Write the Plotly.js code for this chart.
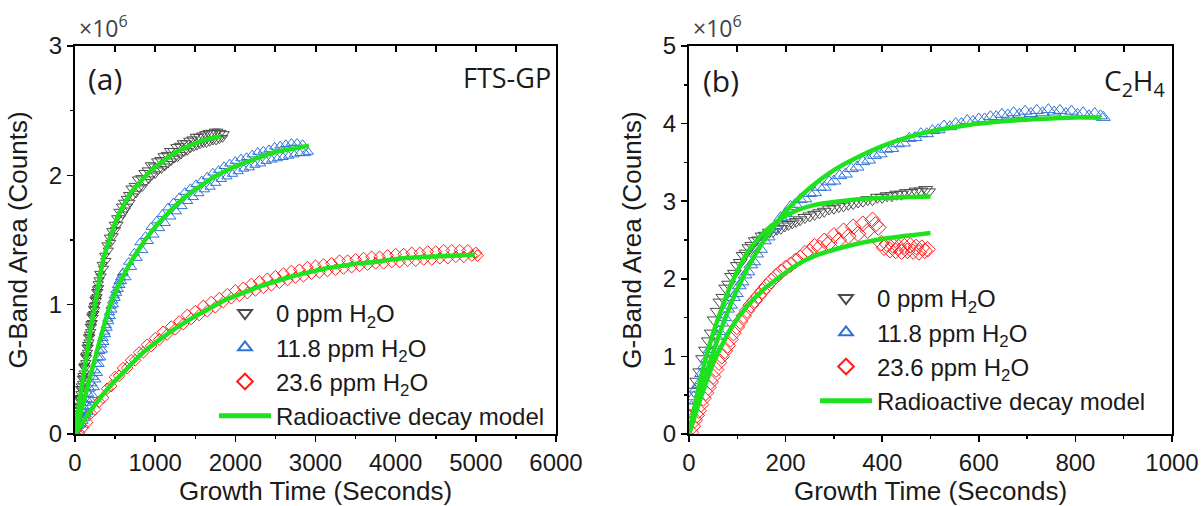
<!DOCTYPE html>
<html>
<head>
<meta charset="utf-8">
<script src="https://cdn.plot.ly/plotly-3.0.1.min.js"></script>
<style>html,body{margin:0;padding:0;background:#fff;}#chart{width:1203px;height:506px;}</style>
</head>
<body>
<div id="chart"></div>
<script>
// ---------- Panel (a): FTS-GP (y in units of 10^6 counts) ----------
const a_t_0ppm = [0,5,10,15,20,25,30,35,40,45,50,55,60,65,70,75,80,85,90,95,100,105,110,115,120,125,130,135,140,145,150,155,160,165,170,175,180,185,190,195,200,205,210,215,220,225,230,235,240,245,250,255,260,265,270,275,280,285,290,295,300,
310,325,340,355,370,385,400,415,430,445,460,475,490,505,520,535,550,565,580,595,610,625,640,655,670,685,
700,720,740,760,780,800,820,840,860,880,900,920,940,960,980,1000,1020,1040,1060,1080,1100,1120,1140,1160,1180,1200,1220,1240,1260,1280,1300,1320,1340,1360,1380,1400,1420,1440,1460,1480,1500,1520,1540,1560,1580,1600,1620,1640,1660,1680,1700,1720,1740,1760,1780,1800,1820,1840,1860];
const a_y_0ppm = [0.03,0.01,0.10,0.05,0.12,0.09,0.19,0.14,0.21,0.18,0.27,0.22,0.28,0.27,0.35,0.31,0.37,0.35,0.43,0.39,0.45,0.43,0.52,0.47,0.53,0.51,0.60,0.55,0.61,0.59,0.67,0.63,0.69,0.67,0.75,0.71,0.77,0.75,0.83,0.79,0.85,0.83,0.91,0.86,0.92,0.90,0.97,0.93,0.99,0.96,1.04,1.00,1.05,1.03,1.10,1.06,1.12,1.10,1.16,1.13,1.19,
1.24,1.22,1.31,1.28,1.38,1.34,1.46,1.42,1.52,1.48,1.57,1.53,1.62,1.58,1.67,1.62,1.72,1.67,1.76,1.70,1.79,1.73,1.82,1.76,1.85,1.79,
1.90,1.84,1.92,1.86,1.97,1.90,1.98,1.91,2.02,1.95,2.04,1.97,2.08,2.00,2.07,2.01,2.11,2.04,2.12,2.05,2.15,2.07,2.16,2.09,2.19,2.11,2.19,2.13,2.22,2.14,2.23,2.16,2.25,2.18,2.25,2.19,2.27,2.21,2.28,2.22,2.30,2.23,2.30,2.24,2.31,2.25,2.32,2.25,2.33,2.26,2.33,2.27,2.34,2.27,2.34,2.28,2.33,2.29,2.32];

const a_t_118ppm = [0,10,20,30,40,50,60,70,80,90,100,110,120,130,140,150,160,170,180,190,200,210,220,230,240,250,260,270,280,290,300,310,320,330,340,350,360,370,380,390,400,410,420,430,440,450,460,470,480,490,500,510,520,530,540,550,560,570,580,590,
600,635,670,705,740,775,810,845,880,915,950,985,1020,1055,1090,1125,1160,1195,1230,1265,1300,1335,1370,1405,1440,1475,1510,1545,1580,1615,1650,1685,1720,1755,1790,1825,1860,1895,1930,1965,2000,2035,2070,2105,2140,2175,2210,2245,2280,2315,2350,2385,2420,2455,2490,2525,2560,2595,2630,2665,2700,2735,2770,2805,2840,2875,2910];
const a_y_118ppm = [0.02,0.06,0.04,0.10,0.06,0.13,0.07,0.16,0.08,0.18,0.10,0.21,0.12,0.24,0.15,0.27,0.17,0.31,0.21,0.35,0.26,0.39,0.30,0.44,0.36,0.49,0.42,0.54,0.47,0.59,0.54,0.64,0.59,0.69,0.65,0.74,0.71,0.79,0.77,0.84,0.82,0.89,0.87,0.94,0.91,0.99,0.96,1.03,1.00,1.07,1.05,1.11,1.09,1.15,1.12,1.18,1.15,1.21,1.18,1.24,
1.25,1.21,1.33,1.29,1.40,1.36,1.48,1.42,1.53,1.49,1.60,1.54,1.65,1.59,1.70,1.63,1.75,1.68,1.79,1.72,1.83,1.76,1.87,1.80,1.90,1.83,1.93,1.86,1.96,1.89,1.99,1.91,2.02,1.94,2.04,1.97,2.07,1.99,2.09,2.01,2.11,2.03,2.13,2.05,2.14,2.06,2.16,2.08,2.18,2.09,2.19,2.11,2.20,2.12,2.22,2.13,2.23,2.14,2.24,2.15,2.25,2.16,2.25,2.17,2.24,2.17,2.18];

const a_t_236ppm = [0,50,100,150,200,250,300,350,400,450,500,550,600,650,700,750,800,850,900,950,1000,1050,1100,1150,1200,1250,1300,1350,1400,1450,1500,1550,1600,1650,1700,1750,1800,1850,1900,1950,2000,2050,2100,2150,2200,2250,2300,2350,2400,2450,2500,2550,2600,2650,2700,2750,2800,2850,2900,2950,3000,3050,3100,3150,3200,3250,3300,3350,3400,3450,3500,3550,3600,3650,3700,3750,3800,3850,3900,3950,4000,4050,4100,4150,4200,4250,4300,4350,4400,4450,4500,4550,4600,4650,4700,4750,4800,4850,4900,4950,5000,5020];
const a_y_236ppm = [0.00,0.01,0.05,0.09,0.16,0.19,0.25,0.28,0.35,0.37,0.44,0.45,0.51,0.51,0.57,0.57,0.63,0.63,0.69,0.68,0.74,0.73,0.79,0.77,0.83,0.81,0.87,0.85,0.92,0.89,0.95,0.92,0.99,0.95,1.02,0.98,1.05,1.02,1.08,1.05,1.11,1.07,1.13,1.09,1.16,1.11,1.18,1.13,1.20,1.15,1.22,1.17,1.24,1.19,1.26,1.21,1.27,1.22,1.29,1.24,1.30,1.25,1.31,1.26,1.32,1.27,1.34,1.28,1.34,1.29,1.35,1.30,1.36,1.31,1.37,1.32,1.37,1.32,1.38,1.33,1.39,1.33,1.39,1.34,1.40,1.34,1.40,1.35,1.41,1.35,1.41,1.36,1.42,1.36,1.42,1.37,1.42,1.37,1.42,1.38,1.40,1.38];

// radioactive decay model curves, panel (a)
const a_fit_t_0ppm = [0,50,100,186,250,352,450,518,600,683,800,973,1100,1263,1400,1511,1650,1822];
const a_fit_y_0ppm = [0,0.22,0.43,0.78,1.00,1.35,1.54,1.66,1.76,1.85,1.94,2.05,2.11,2.18,2.22,2.25,2.28,2.30];
const a_fit_t_118ppm = [0,104,269,435,600,766,973,1180,1387,1594,1801,2008,2257,2505,2753,2919];
const a_fit_y_118ppm = [0,0.24,0.63,0.99,1.22,1.40,1.58,1.72,1.84,1.93,2.01,2.07,2.13,2.18,2.21,2.23];
const a_fit_t_236ppm = [0,228,435,642,849,1056,1263,1470,1677,1884,2091,2298,2505,2712,2919,3126,3333,3540,3747,3954,4368,4782,4989];
const a_fit_y_236ppm = [0,0.21,0.37,0.50,0.63,0.73,0.82,0.90,0.97,1.04,1.09,1.14,1.18,1.22,1.25,1.28,1.30,1.32,1.33,1.35,1.37,1.38,1.385];

// ---------- Panel (b): C2H4 ----------
const b_t_0ppm = [5,10,16,22,28,34,40,46,52,58,64,70,76,82,88,94,100,106,112,118,124,130,137,144,151,158,166,174,182,190,198,206,214,222,230,240,250,260,270,280,290,300,310,320,330,340,350,360,370,380,390,400,410,420,430,440,450,460,470,480,490,496];
const b_y_0ppm = [0.35,0.55,0.68,0.80,0.97,1.08,1.20,1.30,1.47,1.58,1.70,1.76,1.88,1.93,2.03,2.07,2.17,2.21,2.30,2.33,2.40,2.43,2.49,2.50,2.55,2.56,2.60,2.61,2.64,2.65,2.68,2.70,2.72,2.74,2.76,2.79,2.81,2.83,2.85,2.87,2.90,2.91,2.93,2.94,2.96,2.97,2.99,3.00,3.02,3.02,3.05,3.05,3.07,3.07,3.09,3.09,3.11,3.11,3.13,3.13,3.15,3.12];

const b_t_118ppm = [5,10,15,20,26,32,38,44,50,56,62,68,74,80,86,92,98,104,110,116,122,128,134,140,148,156,164,172,180,190,200,210,220,230,240,250,260,270,280,290,300,312,324,336,348,360,372,384,396,408,420,432,444,456,468,480,492,504,516,528,540,552,564,576,588,600,612,624,636,648,660,672,684,696,708,720,732,744,756,768,780,792,804,816,828,840,852,858];
const b_y_118ppm = [0.35,0.48,0.58,0.64,0.78,0.88,0.97,1.09,1.14,1.26,1.32,1.43,1.50,1.61,1.66,1.76,1.81,1.91,1.96,2.05,2.09,2.18,2.22,2.32,2.38,2.49,2.54,2.64,2.68,2.79,2.84,2.93,2.96,3.02,3.03,3.10,3.11,3.18,3.18,3.25,3.26,3.33,3.35,3.42,3.44,3.51,3.53,3.59,3.61,3.67,3.68,3.74,3.75,3.81,3.82,3.87,3.87,3.91,3.92,3.97,3.96,4.00,4.00,4.04,4.03,4.06,4.06,4.09,4.09,4.12,4.11,4.14,4.12,4.16,4.13,4.17,4.14,4.18,4.15,4.17,4.13,4.16,4.12,4.14,4.10,4.13,4.10,4.08,4.07];

const b_t_236ppm = [4,8,12,16,20,25,30,35,40,45,50,56,62,68,74,80,86,92,99,106,113,120,128,136,144,152,160,170,180,190,200,210,220,230,240,250,260,270,280,290,300,310,320,330,340,350,360,370,380,386,392,398,404,410,416,422,428,434,440,446,452,458,464,470,476,482,488,494];
const b_y_236ppm = [0.02,0.10,0.18,0.24,0.30,0.38,0.46,0.53,0.60,0.67,0.74,0.83,0.92,1.00,1.07,1.14,1.22,1.30,1.38,1.45,1.52,1.59,1.66,1.72,1.78,1.84,1.90,1.97,2.03,2.09,2.14,2.18,2.23,2.27,2.33,2.35,2.42,2.40,2.49,2.46,2.56,2.50,2.62,2.55,2.67,2.58,2.71,2.62,2.76,2.70,2.66,2.46,2.40,2.45,2.37,2.43,2.36,2.41,2.35,2.42,2.36,2.43,2.35,2.41,2.34,2.40,2.36,2.38];

// radioactive decay model curves, panel (b)
const b_fit_t_0ppm = [0,25,50,85,120,154,189,223,258,327,396,500];
const b_fit_y_0ppm = [0,0.74,1.30,1.90,2.33,2.59,2.77,2.88,2.95,3.01,3.04,3.06];
const b_fit_t_118ppm = [0,30,57,85,120,154,200,250,300,350,400,450,500,575,650,725,800,853];
const b_fit_y_118ppm = [0,0.66,1.18,1.65,2.12,2.48,2.87,3.17,3.40,3.57,3.71,3.82,3.90,3.98,4.03,4.06,4.08,4.08];
const b_fit_t_236ppm = [0,23,50,85,120,154,189,223,258,327,396,500];
const b_fit_y_236ppm = [0,0.44,0.91,1.34,1.645,1.86,2.03,2.18,2.29,2.42,2.51,2.59];

// top-edge tick positions (inward ticks on the top frame)
const a_topTicks = [500,1000,1500,2000,2500,3000,3500,4000,4500,5000,5500];
const b_topTicks = [100,200,300,400,500,600,700,800,900];

// ---------- labels ----------
const seriesNames = ['0 ppm H<sub>2</sub>O','11.8 ppm H<sub>2</sub>O','23.6 ppm H<sub>2</sub>O'];
const fitName = 'Radioactive decay model';
const panelLabels = ['(a)','(b)'];
const panelGases = ['FTS-GP','C<sub>2</sub>H<sub>4</sub>'];
const xTitle = 'Growth Time (Seconds)';
const yTitle = 'G-Band Area (Counts)';
const multiplier = '×10<sup>6</sup>';

// ---------- styles ----------
const colors = ['#4a4a4a','#2f72d8','#ff1c1c'];
const symbols = ['triangle-down-open','triangle-up-open','diamond-open'];
const green = '#1de21d';
const ARIAL = 'Liberation Sans, Arial, sans-serif';
const SEGOE = 'Open Sans, Noto Sans, sans-serif';

const traces = [];
function addPanel(xa, ya, leg, ts, ys, fts, fys, msize){
  for(let i=0;i<3;i++){
    traces.push({type:'scatter',mode:'markers',x:ts[i],y:ys[i],xaxis:xa,yaxis:ya,
      name:seriesNames[i],legend:leg,showlegend:true,
      marker:{symbol:symbols[i],size:msize,color:colors[i],line:{color:colors[i],width:1}}});
  }
  for(let i=0;i<3;i++){
    traces.push({type:'scatter',mode:'lines',x:fts[i],y:fys[i],xaxis:xa,yaxis:ya,
      name:fitName,legend:leg,showlegend:i===0,line:{color:green,width:4.5,shape:'spline',smoothing:0.6}});
  }
}
addPanel('x','y','legend',[a_t_0ppm,a_t_118ppm,a_t_236ppm],[a_y_0ppm,a_y_118ppm,a_y_236ppm],
  [a_fit_t_0ppm,a_fit_t_118ppm,a_fit_t_236ppm],[a_fit_y_0ppm,a_fit_y_118ppm,a_fit_y_236ppm],9);
addPanel('x2','y2','legend2',[b_t_0ppm,b_t_118ppm,b_t_236ppm],[b_y_0ppm,b_y_118ppm,b_y_236ppm],
  [b_fit_t_0ppm,b_fit_t_118ppm,b_fit_t_236ppm],[b_fit_y_0ppm,b_fit_y_118ppm,b_fit_y_236ppm],12);
// transparent traces that attach the overlaid top tick axes
traces.push({type:'scatter',mode:'markers',x:a_fit_t_0ppm,y:a_fit_y_0ppm,xaxis:'x3',yaxis:'y',
  marker:{opacity:0},showlegend:false,hoverinfo:'skip'});
traces.push({type:'scatter',mode:'markers',x:b_fit_t_0ppm,y:b_fit_y_0ppm,xaxis:'x4',yaxis:'y2',
  marker:{opacity:0},showlegend:false,hoverinfo:'skip'});

const W=1203, T=46, B=72, H=506;
const ph = H-T-B;
const px2x = p => p/W;
const py2y = p => (H-B-p)/ph;

function xax(dom, range, dtick, anchor){
  return {domain:dom, range:range, anchor:anchor, dtick:dtick, tick0:0,
    showline:true, linewidth:2, linecolor:'#000', mirror:true, showgrid:false, zeroline:false,
    ticks:'outside', ticklen:6, tickwidth:1.5, tickcolor:'#000',
    minor:{ticks:'outside', ticklen:3, tickwidth:1.5, tickcolor:'#000', dtick:dtick/2, tick0:0, showgrid:false},
    tickfont:{family:ARIAL,size:24,color:'#1a1a1a'},
    title:{text:xTitle, font:{family:ARIAL,size:26,color:'#1a1a1a'}, standoff:4}};
}
function yax(range, anchor){
  return {domain:[0,1], range:range, anchor:anchor, dtick:1, tick0:0,
    showline:true, linewidth:2, linecolor:'#000', mirror:true, showgrid:false, zeroline:false,
    ticks:'outside', ticklen:6, tickwidth:1.5, tickcolor:'#000',
    minor:{ticks:'outside', ticklen:3, tickwidth:1.5, tickcolor:'#000', dtick:0.5, tick0:0, showgrid:false},
    tickfont:{family:ARIAL,size:24,color:'#1a1a1a'},
    title:{text:yTitle, font:{family:ARIAL,size:26,color:'#1a1a1a'}, standoff:14}};
}
// overlaid top axes carrying inward ticks (labels left blank)
function topax(over, range, vals, anchor){
  return {overlaying:over, side:'top', anchor:anchor, range:range,
    tickmode:'array', tickvals:vals, ticktext:vals.map(()=>' '),
    showticklabels:true, tickfont:{size:2,color:'rgba(0,0,0,0)'},
    showline:false, showgrid:false, zeroline:false,
    ticks:'inside', ticklen:6, tickwidth:2, tickcolor:'#000'};
}

const domA = [px2x(75), px2x(556)];
const domB = [px2x(689), px2x(1172)];

const legendBase = {xanchor:'left', yanchor:'top', bgcolor:'rgba(0,0,0,0)',
  font:{family:ARIAL,size:24,color:'#1a1a1a'}, itemsizing:'constant', tracegroupgap:0, itemwidth:52};

const layout = {
  width:W, height:H, margin:{l:0,r:0,t:T,b:B},
  paper_bgcolor:'#fff', plot_bgcolor:'#fff',
  xaxis: xax(domA,[0,6000],1000,'y'),
  yaxis: yax([0,3],'x'),
  xaxis2: xax(domB,[0,1000],200,'y2'),
  yaxis2: yax([0,5],'x2'),
  xaxis3: topax('x',[0,6000],a_topTicks,'y'),
  xaxis4: topax('x2',[0,1000],b_topTicks,'y2'),
  legend: Object.assign({x:px2x(214), y:py2y(291)}, legendBase),
  legend2: Object.assign({x:px2x(815), y:py2y(276)}, legendBase),
  annotations:[
    {xref:'paper',yref:'paper',x:px2x(77),y:py2y(27),xanchor:'left',yanchor:'middle',showarrow:false,
     text:multiplier,font:{family:SEGOE,size:23,color:'#444'}},
    {xref:'paper',yref:'paper',x:px2x(691),y:py2y(27),xanchor:'left',yanchor:'middle',showarrow:false,
     text:multiplier,font:{family:SEGOE,size:23,color:'#444'}},
    {xref:'paper',yref:'paper',x:px2x(86),y:py2y(78),xanchor:'left',yanchor:'middle',showarrow:false,
     text:panelLabels[0],font:{family:SEGOE,size:30,color:'#1a1a1a'}},
    {xref:'paper',yref:'paper',x:px2x(553),y:py2y(77),xanchor:'right',yanchor:'middle',showarrow:false,
     text:panelGases[0],font:{family:SEGOE,size:27,color:'#1a1a1a'}},
    {xref:'paper',yref:'paper',x:px2x(701),y:py2y(80),xanchor:'left',yanchor:'middle',showarrow:false,
     text:panelLabels[1],font:{family:SEGOE,size:30,color:'#1a1a1a'}},
    {xref:'paper',yref:'paper',x:px2x(1167),y:py2y(82),xanchor:'right',yanchor:'middle',showarrow:false,
     text:panelGases[1],font:{family:SEGOE,size:28,color:'#1a1a1a'}}
  ],
  showlegend:true
};

Plotly.newPlot('chart', traces, layout, {displayModeBar:false, staticPlot:true});
</script>
</body>
</html>
